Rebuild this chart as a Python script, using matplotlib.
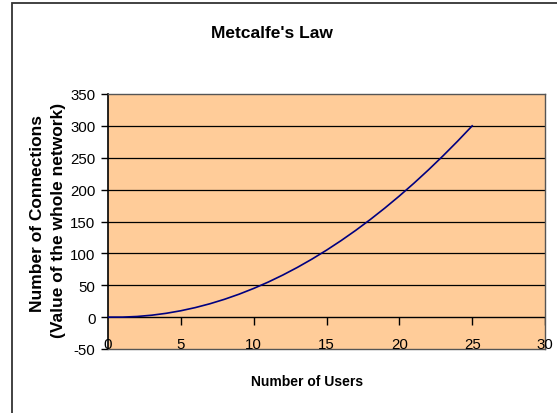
import matplotlib
matplotlib.use("Agg")
import matplotlib.pyplot as plt
from matplotlib.patches import Rectangle

# Metcalfe's law: connections between users
users = [0, 1, 2, 3, 4, 5, 6, 7, 8, 9, 10, 11, 12, 13, 14, 15, 16, 17, 18,
         19, 20, 21, 22, 23, 24, 25]
connections = [0, 0, 1, 3, 6, 10, 15, 21, 28, 36, 45, 55, 66, 78, 91, 105,
               120, 136, 153, 171, 190, 210, 231, 253, 276, 300]
x_ticks = [0, 5, 10, 15, 20, 25, 30]
y_ticks = [-50, 0, 50, 100, 150, 200, 250, 300, 350]

font = ["Liberation Sans", "DejaVu Sans"]

fig = plt.figure(figsize=(5.57, 4.14), dpi=100)
ax = fig.add_axes([108 / 557, 1 - 350 / 414, (545 - 108) / 557, (350 - 95) / 414])
ax.set_facecolor("#FFCC99")

# outer chart frame
fig.patches.append(Rectangle((12 / 557, -0.1), 1.2, 1 - 4 / 414 + 0.1,
                             transform=fig.transFigure, fill=False,
                             edgecolor="#333333", linewidth=1.3))

ax.set_xlim(0, 30)
ax.set_ylim(-50, 350)

# horizontal gridlines
for v in y_ticks[2:-1]:
    ax.axhline(v, color="black", linewidth=0.9, zorder=1)

ax.plot(users, connections, color="#000080", linewidth=1.2, zorder=3)

# category axis crossing at zero, with downward tick marks
ax.axhline(0, color="black", linewidth=1.0, zorder=2)
tick_len = 7.5 * 400 / 255
ax.vlines(x_ticks[1:], 0, -tick_len, color="black", linewidth=1.0, zorder=2)

ax.set_xticks([])
ax.set_yticks(y_ticks)
ax.set_yticklabels([str(v) for v in y_ticks], fontfamily=font, fontsize=10.8)
ax.tick_params(axis="y", direction="out", length=5, width=1, pad=4, colors="black")

for side in ["top", "right", "bottom"]:
    ax.spines[side].set_color("#555555")
    ax.spines[side].set_linewidth(1.0)
ax.spines["left"].set_color("black")
ax.spines["left"].set_linewidth(1.2)

for t in x_ticks:
    ax.annotate(str(t), xy=(t, 0), xycoords=("data", "axes fraction"),
                xytext=(0, 5), textcoords="offset pixels",
                ha="center", va="center", fontfamily=font, fontsize=10.8)

fig.text(272 / 557, 1 - 33 / 414, "Metcalfe's Law", ha="center", va="center",
         fontfamily=font, fontweight="bold", fontsize=12.5)
fig.text(307 / 557, 1 - 382 / 414, "Number of Users", ha="center", va="center",
         fontfamily=font, fontweight="bold", fontsize=10)
fig.text(38 / 557, 1 - 214 / 414, "Number of Connections", rotation=90,
         ha="center", va="center", fontfamily=font, fontweight="bold", fontsize=12.5)
fig.text(59 / 557, 1 - 220 / 414, "(Value of the whole network)", rotation=90,
         ha="center", va="center", fontfamily=font, fontweight="bold", fontsize=12.5)

fig.savefig("out.png", dpi=100)
